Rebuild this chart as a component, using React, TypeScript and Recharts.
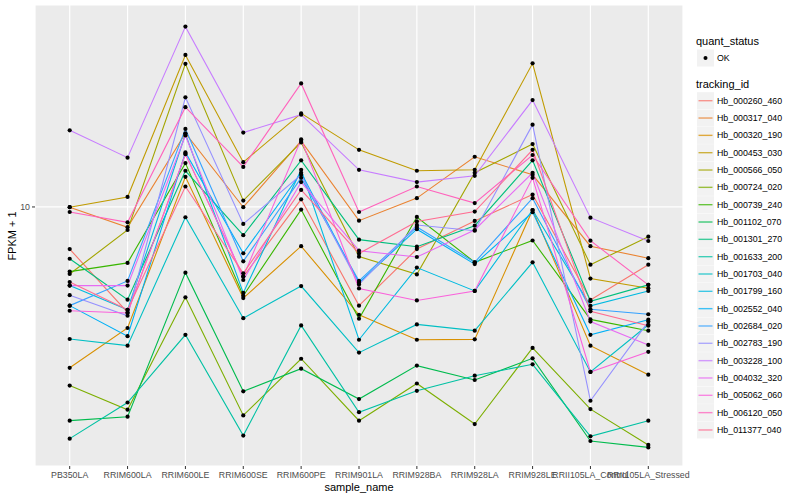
import { LineChart, Line, XAxis, YAxis, CartesianGrid } from 'recharts';

const FONT = '"Liberation Sans", Arial, Helvetica, sans-serif';

const samples = [
  'PB350LA', 'RRIM600LA', 'RRIM600LE', 'RRIM600SE', 'RRIM600PE', 'RRIM901LA',
  'RRIM928BA', 'RRIM928LA', 'RRIM928LE', 'RRII105LA_Control', 'RRII105LA_Stressed',
];

const trackingIds = [
  'Hb_000260_460', 'Hb_000317_040', 'Hb_000320_190', 'Hb_000453_030', 'Hb_000566_050',
  'Hb_000724_020', 'Hb_000739_240', 'Hb_001102_070', 'Hb_001301_270', 'Hb_001633_200',
  'Hb_001703_040', 'Hb_001799_160', 'Hb_002552_040', 'Hb_002684_020', 'Hb_002783_190',
  'Hb_003228_100', 'Hb_004032_320', 'Hb_005062_060', 'Hb_006120_050', 'Hb_011377_040',
];

// ggplot default hue palette, 20 levels
const lineColors = [
  '#F8766D', '#EA8331', '#D89000', '#C09B00', '#A3A500', '#7CAE00', '#39B600', '#00BB4E',
  '#00BF7D', '#00C1A3', '#00BFC4', '#00BAE0', '#00B0F6', '#35A2FF', '#9590FF', '#C77CFF',
  '#E76BF3', '#FA62DB', '#FF62BC', '#FF6C91',
];

// FPKM + 1, one value per sample
const hb_000260_460 = [7.24, 4.45, 15.0, 5.86, 10.6, 4.69, 7.24, 8.98, 11.0, 4.9, 6.42];
const hb_000317_040 = [9.98, 8.56, 17.6, 9.98, 16.6, 9.0, 10.7, 14.7, 12.8, 7.4, 6.75];
const hb_000320_190 = [2.91, 3.95, 12.6, 4.97, 7.4, 4.37, 3.61, 3.62, 9.77, 3.45, 2.76];
const hb_000453_030 = [9.98, 10.8, 32.1, 14.1, 20.5, 15.5, 13.2, 13.3, 30.1, 5.77, 5.36];
const hb_000566_050 = [5.98, 8.38, 30.0, 10.5, 16.4, 6.83, 5.96, 13.0, 16.2, 6.42, 7.96];
const hb_000724_020 = [2.54, 2.11, 5.0, 2.02, 3.12, 1.94, 2.58, 1.89, 3.39, 2.12, 1.61];
const hb_000739_240 = [6.09, 6.51, 14.0, 5.06, 9.8, 4.24, 9.26, 6.54, 7.73, 4.22, 3.87];
const hb_001102_070 = [1.94, 2.0, 6.04, 2.43, 2.89, 2.29, 2.96, 2.65, 3.13, 1.66, 1.58];
const hb_001301_270 = [6.72, 4.91, 13.2, 8.05, 14.3, 7.78, 7.37, 8.66, 14.3, 4.85, 5.5];
const hb_001633_200 = [1.69, 2.23, 3.75, 1.73, 4.03, 2.07, 2.44, 2.74, 2.99, 1.72, 1.94];
const hb_001703_040 = [3.63, 3.45, 9.24, 4.26, 5.45, 3.27, 4.06, 3.87, 6.54, 2.82, 4.05];
const hb_001799_160 = [5.47, 4.54, 17.5, 5.17, 13.3, 3.61, 6.28, 5.25, 9.77, 4.68, 5.25];
const hb_002552_040 = [4.69, 3.71, 15.2, 7.01, 13.0, 5.59, 8.43, 6.45, 9.61, 3.75, 4.21];
const hb_002684_020 = [4.69, 5.67, 18.2, 6.59, 12.5, 5.67, 8.58, 6.54, 10.7, 4.56, 4.39];
const hb_002783_190 = [5.08, 4.34, 23.2, 8.78, 12.8, 5.52, 8.71, 8.33, 18.8, 2.26, 4.15];
const hb_003228_100 = [18.0, 14.6, 39.9, 17.7, 20.3, 13.3, 12.1, 12.7, 22.7, 9.21, 7.7];
const hb_004032_320 = [5.47, 5.47, 17.3, 5.71, 12.1, 7.15, 6.81, 8.38, 13.0, 4.15, 3.47];
const hb_005062_060 = [4.51, 4.43, 15.0, 5.86, 16.8, 5.35, 4.88, 5.25, 12.5, 2.82, 3.29];
const hb_006120_050 = [9.62, 8.89, 21.5, 13.6, 25.8, 9.62, 11.7, 10.3, 14.9, 7.72, 5.5];
const hb_011377_040 = [5.62, 4.54, 11.7, 6.01, 11.4, 7.0, 8.95, 9.65, 15.5, 4.49, 4.02];

const seriesValues = [
  hb_000260_460, hb_000317_040, hb_000320_190, hb_000453_030, hb_000566_050,
  hb_000724_020, hb_000739_240, hb_001102_070, hb_001301_270, hb_001633_200,
  hb_001703_040, hb_001799_160, hb_002552_040, hb_002684_020, hb_002783_190,
  hb_003228_100, hb_004032_320, hb_005062_060, hb_006120_050, hb_011377_040,
];

const yTicks = [10];

const rows = samples.map((sample, i) => {
  const row: Record<string, string | number> = { sample };
  trackingIds.forEach((id, j) => {
    row[id] = seriesValues[j][i];
  });
  return row;
});

const XTitle = () => (
  <text x={359} y={491} textAnchor="middle" fontSize={11} fontFamily={FONT} fill="#000">
    sample_name
  </text>
);

const YTitle = () => (
  <text
    x={16}
    y={236}
    transform="rotate(-90 16 236)"
    textAnchor="middle"
    fontSize={11}
    fontFamily={FONT}
    fill="#000"
  >
    FPKM + 1
  </text>
);

function LegendPanel() {
  return (
    <svg width={110} height={440} style={{ position: 'absolute', left: 690, top: 20 }}>
      <text x={6} y={24.5} fontSize={11} fontFamily={FONT} fill="#000">quant_status</text>
      <rect x={7} y={29.5} width={17} height={17} fill="#F2F2F2" />
      <circle cx={15.5} cy={38} r={2} fill="#000" />
      <text x={27} y={41} fontSize={8.8} fontFamily={FONT} fill="#000">OK</text>
      <text x={6} y={68} fontSize={11} fontFamily={FONT} fill="#000">tracking_id</text>
      {trackingIds.map((id, i) => {
        const cy = 80.7 + i * 17.33;
        return (
          <g key={id}>
            <rect x={7} y={cy - 8.5} width={17} height={17} fill="#F2F2F2" />
            <line x1={8.5} x2={22.5} y1={cy} y2={cy} stroke={lineColors[i]} strokeWidth={1.4} strokeOpacity={0.75} />
            <text x={27} y={cy + 3} fontSize={8.8} fontFamily={FONT} fill="#000">{id}</text>
          </g>
        );
      })}
    </svg>
  );
}

export default function App() {
  return (
    <div style={{ position: 'absolute', left: 0, top: 0, width: 800, height: 500, background: '#fff' }}>
      <LineChart width={800} height={500} data={rows} margin={{ top: 5, right: 117, bottom: 0, left: 0 }}>
        <CartesianGrid fill="#EBEBEB" stroke="#FFFFFF" strokeWidth={1.2} />
        <XAxis
          dataKey="sample"
          interval={0}
          height={34}
          padding={{ left: 34.7, right: 34.7 }}
          axisLine={false}
          tickSize={3}
          tickMargin={3}
          tickLine={{ stroke: '#333333' }}
          tick={{ fontSize: 8.8, fill: '#4D4D4D', fontFamily: FONT }}
          label={<XTitle />}
        />
        <YAxis
          scale="log"
          domain={[1.37, 47.1]}
          allowDataOverflow
          ticks={yTicks}
          width={35}
          axisLine={false}
          tickSize={3}
          tickMargin={2}
          tickLine={{ stroke: '#333333' }}
          tick={{ fontSize: 8.8, fill: '#4D4D4D', fontFamily: FONT }}
          label={<YTitle />}
        />
        {trackingIds.map((id, i) => (
          <Line
            key={id}
            dataKey={id}
            type="linear"
            stroke={lineColors[i]}
            strokeWidth={1.1}
            dot={false}
            activeDot={false}
            isAnimationActive={false}
          />
        ))}
        {trackingIds.map((id) => (
          <Line
            key={`${id}-pts`}
            dataKey={id}
            type="linear"
            stroke="none"
            dot={{ r: 2.1, fill: '#000', stroke: 'none' }}
            activeDot={false}
            legendType="none"
            isAnimationActive={false}
          />
        ))}
      </LineChart>
      <LegendPanel />
    </div>
  );
}
